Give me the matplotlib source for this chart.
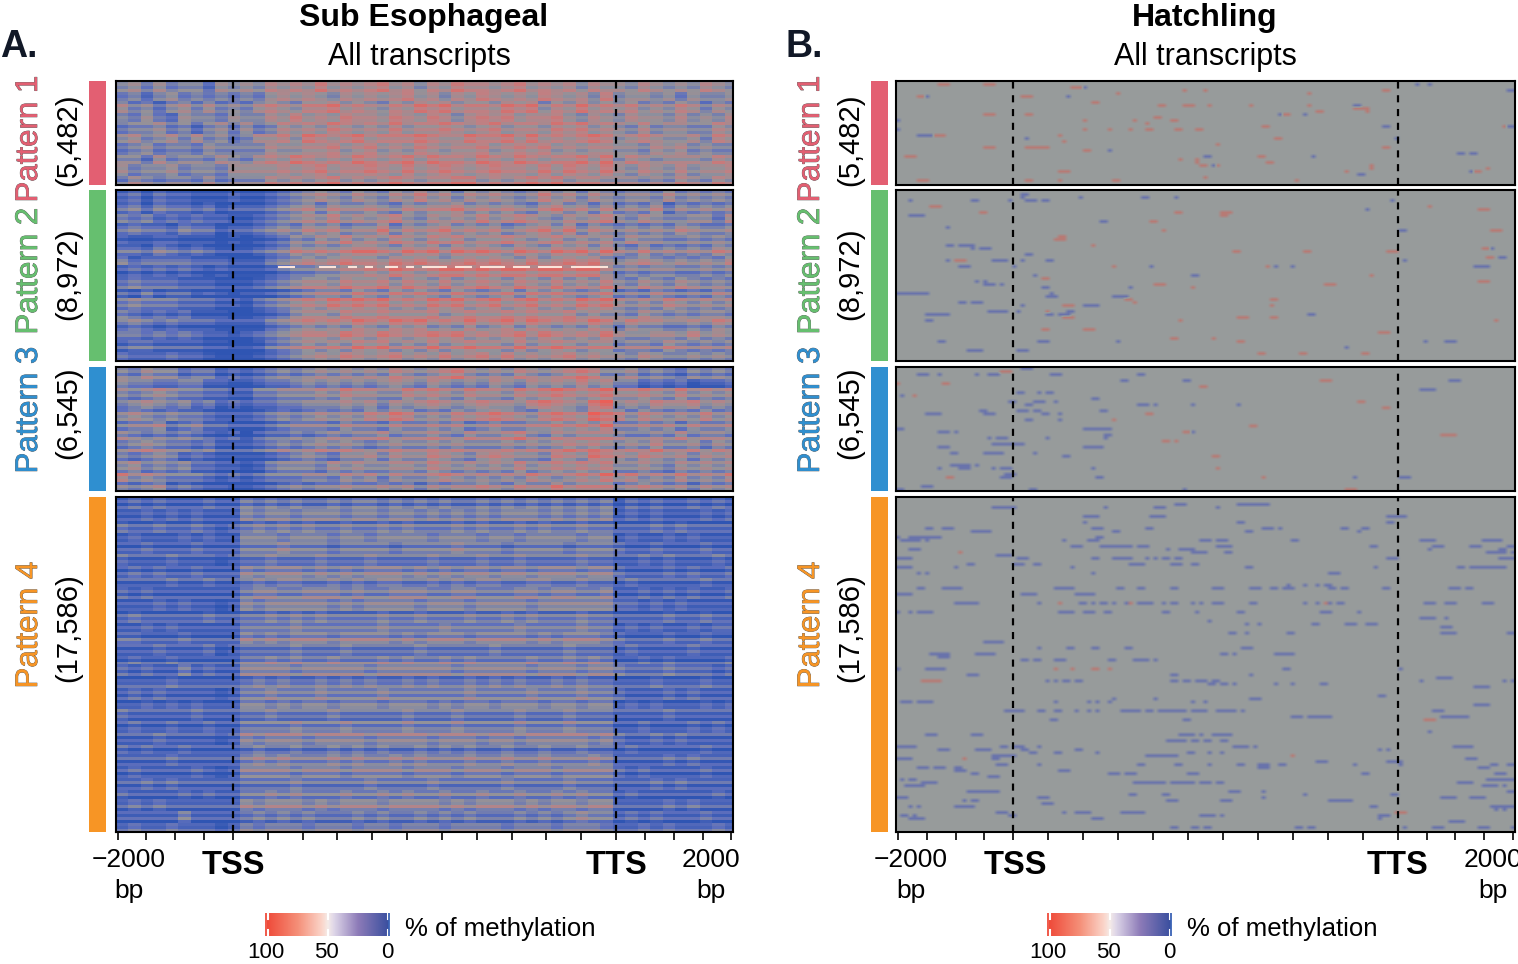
import numpy as np
import matplotlib
matplotlib.use("Agg")
import matplotlib.pyplot as plt
import matplotlib.patheffects as pe
from matplotlib.colors import LinearSegmentedColormap
from matplotlib.patches import Rectangle

plt.rcParams['font.family'] = ['Liberation Sans', 'DejaVu Sans']

W, H = 1518, 964

pattern_names = ["Pattern 1", "Pattern 2", "Pattern 3", "Pattern 4"]
pattern_counts = ["(5,482)", "(8,972)", "(6,545)", "(17,586)"]
pattern_colors = ["#e35f72", "#66bf6f", "#2f8fd0", "#f79525"]
name_y = [139, 271, 410, 625]
count_y = [140, 274, 413, 628]

# sub esophageal, digits are methylation deciles (0 = none, 9 = full)
sub_p1 = [
    "4535344254 5465657565 6756465766 5675656465 5465454654",
    "3424534343 4356565465 6567564657 6565765647 4554535445",
    "5342453534 3565466756 5465767566 5767465756 5645465354",
    "4353254435 4465756576 6576576467 6756675465 4655464546",
    "3445342453 5346565765 6575667656 7566576756 5464554465",
    "4534535342 3556476567 5666765576 6757565676 4565445365",
    "3453443544 4465566756 7565765667 5676756566 5546564544",
    "4425344354 3565765657 6567576657 6576566757 4654555465",
    "5344534435 5556567566 7657567656 7665757657 5465464556",
    "3543443534 4465656756 5676566775 6567675665 5545465465",
]
sub_p2 = [
    "2313221112 1123456546 5465756465 6545756465 4554645454",
    "3424332312 2234564655 6546566756 5654675646 4546354545",
    "4342323221 1234565756 5675465657 5676546567 5465445536",
    "3433243312 2345465645 5746567565 6456757465 4545465445",
    "2112211101 0123546575 6576576756 6765675656 4655445454",
    "3324323211 1234656567 7657675767 6576576757 5464545465",
    "4233332221 1134565676 6576765676 7657567675 4565454546",
    "2323232121 1123445566 7687678878 7887887886 4545544545",
    "3433322211 1234566576 6757657567 6576575657 5465465454",
    "3242331210 1123456657 6576765765 6757676567 4546545465",
    "3433322211 0234565767 6756576756 7567565767 5454654545",
    "4323231110 0123566576 6766675676 6767667565 5465454554",
    "3432322211 1134565657 6576756575 6757656576 4655445465",
    "3323232110 1234566576 5765676756 5675765657 5445546454",
    "2332222110 0134565657 6756575676 6575676566 4554654545",
    "3222322100 0123456576 5675657567 5756567565 5465445454",
]
sub_p3 = [
    "4354423312 1234345454 5465456754 5465456764 4534324343",
    "5443344221 1233454545 4565465454 6546565756 4423231223",
    "4345433221 1334445465 5446565465 5465676567 5565464545",
    "3454342312 1223344454 5354565456 5546765478 4546556454",
    "4543433211 1234345454 6576454656 7654676587 6465454645",
    "3445234221 1123444354 4354454534 5445565657 4454535445",
    "5434343212 0233434545 5645565465 5675465666 5445464554",
    "3454332311 1234345454 3454454544 4545456565 4546445354",
    "4345423211 1123454355 6465576546 7655476587 6576564656",
    "4534342211 0134443545 4455465454 5464565656 4454354545",
    "6454333212 1233344354 5354456545 4546545657 5645464546",
    "4345232110 0123434454 4545354556 5465575666 4565453545",
]
sub_p4 = [
    "1212111211 3232322323 3232323223 2323232323 0212112121",
    "1121212111 4344344434 4344343434 3444343434 1212111212",
    "2112112101 2323232232 2323222323 2232322322 1112121111",
    "1211121211 4443444344 3444434443 4434444344 1211212111",
    "1121112111 3334333233 3323333433 3233332333 2112111211",
    "2111211101 2232223222 3222232223 2232222322 1121211121",
    "1212112111 4344434343 4443434344 3443444344 2111212112",
    "1111211211 2323322323 2332232323 3223322322 1211111211",
    "2121111111 3443344434 3344433443 3344344334 1121212112",
    "1112121101 4344444343 4444344434 4443444444 2212121111",
    "1211111211 2232323222 2322322232 2323222322 1111211211",
    "1121211111 3333433333 3433334333 3343333433 1212112122",
    "2211121111 4343444344 4434344434 4443434443 2111211211",
    "1112111201 2222322232 2222322222 3222223222 1211112111",
    "1211211111 3343433433 3434334343 3334334343 1121211112",
    "2121131211 4444344444 3444444344 4443444344 3222322212",
    "1111211111 2323223232 3223232232 3232232322 1112111211",
    "1212111101 3343334333 3433333343 3334333433 2111212111",
    "1121212111 4434344344 4344434344 3444344344 1212111212",
    "2111112111 2232222322 2223222322 2232223222 1111211111",
    "1211211211 3333433343 3334333433 3343334333 1121112121",
    "1112111101 4344434444 3444434443 4434444434 2112121111",
    "2121121111 2322322323 2322323232 2322322322 1211111211",
    "1111211111 3434333434 3343433343 3433433343 1111212111",
    "1211112101 4444344434 4443444344 4344434444 2121111211",
    "1121211111 2222322222 3222232222 2322223222 1112121111",
    "2111121211 3343433343 3434334334 3343343433 1211111121",
    "1212111111 4344434344 4344443434 4434344344 1111212111",
    "1111131111 2323232223 2322323232 2232323433 1212111211",
    "1211211101 3233323332 3323332333 3233323332 1121211121",
]
sub_level_shift = [-3, -7, -4, 2]
# fine row by row streaks of each block, digit 4 is neutral, one digit per 3 px row
sub_rows_p1 = "45364352746354625374635246375463527"
sub_rows_p2 = "263514725361473526148325736142537061847352685146735282463"
sub_rows_p3 = "46275318462753174628351746293517462835174"
sub_rows_p4 = ("2617352618472536174825361748253617263518472635184726351"
               "8362715483627154836271548263715482637154826371548263715482")
sub_row_step = 5
# row of the second block where almost nothing is covered, from/to column of the pale runs
p2_pale_row = 25.5
p2_pale_runs = [(39, 43), (49, 53), (56, 58), (60, 62), (65, 68), (70, 72), (74, 80), (82, 86), (88, 94),
                (96, 100), (102, 108), (110, 119)]

# hatchling, sparse methylated / unmethylated streaks as (row, first col, last col)
hatch_p1_red = [
    (1, 10, 12), (1, 21, 23), (2, 42, 44), (5, 5, 6), (5, 30, 32), (4, 53, 53), (3, 69, 69), (3, 74, 74),
    (3, 117, 118), (4, 99, 99), (7, 47, 48), (8, 63, 64), (8, 69, 71), (8, 75, 75), (8, 85, 85), (8, 99, 99),
    (9, 110, 113), (11, 21, 23), (11, 31, 32), (10, 101, 102), (11, 93, 94), (10, 113, 113), (12, 62, 63),
    (13, 45, 45), (13, 66, 67), (13, 57, 57), (14, 60, 60), (15, 88, 89), (15, 146, 146), (16, 45, 45),
    (16, 51, 51), (16, 56, 56), (16, 60, 61), (16, 67, 68), (16, 72, 73), (18, 9, 11), (18, 39, 39),
    (20, 40, 40), (19, 91, 92), (22, 21, 23), (22, 31, 33), (22, 34, 36), (22, 117, 118), (21, 77, 77),
    (23, 45, 46), (25, 2, 4), (25, 87, 88), (26, 68, 68), (26, 72, 72), (27, 72, 72), (28, 73, 74),
    (28, 77, 77), (28, 114, 114), (27, 89, 90), (30, 39, 41), (30, 108, 108), (29, 114, 114), (32, 74, 74),
    (33, 5, 7), (33, 39, 39), (33, 52, 53), (33, 31, 32), (33, 96, 96), (30, 139, 140), (29, 142, 142),
]
hatch_p1_blue = [
    (2, 45, 45), (5, 7, 7), (5, 41, 41), (1, 125, 125), (1, 128, 128), (3, 147, 148), (13, 0, 0), (16, 0, 0),
    (18, 5, 8), (18, 10, 10), (15, 117, 118), (15, 147, 148), (19, 31, 31), (19, 120, 120), (23, 51, 51),
    (24, 135, 136), (24, 138, 139), (25, 100, 100), (25, 74, 75), (28, 76, 76), (8, 110, 111), (11, 92, 92),
    (11, 98, 98), (30, 138, 138), (31, 111, 112),
]
hatch_p2_red = [
    (5, 8, 10), (7, 20, 21), (7, 67, 68), (7, 78, 80), (8, 78, 79), (10, 61, 62), (13, 64, 64), (15, 39, 40),
    (16, 38, 40), (18, 47, 47), (20, 81, 82), (20, 98, 99), (20, 118, 120), (19, 141, 142), (23, 14, 16),
    (25, 52, 52), (25, 89, 89), (28, 114, 114), (29, 35, 36), (31, 62, 64), (30, 140, 142), (31, 103, 105),
    (32, 71, 71), (36, 90, 91), (36, 55, 56), (37, 57, 57), (38, 40, 42), (38, 90, 90), (40, 36, 36),
    (42, 40, 42), (42, 82, 84), (42, 90, 91), (43, 68, 68), (43, 144, 144), (46, 35, 36), (46, 45, 47),
    (47, 116, 118), (49, 66, 67), (49, 76, 76), (50, 82, 83), (13, 143, 145), (5, 128, 128), (6, 140, 142),
    (54, 87, 88), (54, 97, 98), (54, 112, 113), (22, 142, 143),
]
hatch_p2_blue = [
    (1, 30, 31), (2, 30, 30), (3, 3, 3), (3, 18, 19), (3, 27, 27), (3, 31, 32), (3, 33, 33), (3, 35, 36),
    (2, 59, 60), (2, 67, 67), (2, 44, 44), (8, 3, 6), (10, 49, 50), (12, 12, 12), (18, 12, 12), (18, 13, 13),
    (18, 15, 18), (19, 18, 18), (19, 20, 22), (21, 31, 32), (23, 12, 12), (23, 23, 26), (23, 30, 30),
    (23, 36, 37), (23, 122, 122), (25, 15, 17), (25, 28, 28), (25, 139, 142), (30, 19, 19), (30, 21, 21),
    (31, 21, 23), (31, 25, 25), (32, 35, 36), (32, 56, 56), (34, 0, 7), (34, 37, 37), (35, 36, 38),
    (35, 52, 55), (37, 15, 16), (37, 18, 19), (37, 20, 20), (38, 30, 30), (38, 45, 47), (38, 48, 48),
    (40, 41, 42), (40, 22, 23), (40, 24, 25), (40, 26, 26), (40, 29, 29), (41, 39, 41), (41, 36, 37),
    (41, 7, 12), (43, 7, 8), (50, 10, 11), (50, 34, 36), (50, 53, 53), (50, 127, 127), (50, 132, 134),
    (53, 17, 20), (53, 29, 31), (41, 99, 100), (28, 33, 33), (25, 91, 91), (25, 95, 95), (25, 61, 61),
    (28, 71, 72), (52, 108, 108), (13, 121, 122), (19, 143, 143), (22, 145, 146), (6, 113, 113), (3, 119, 119),
]
hatch_p3_red = [
    (1, 25, 27), (5, 0, 0), (5, 11, 12), (4, 102, 104), (6, 73, 74), (9, 4, 4), (11, 111, 112), (13, 117, 118),
    (15, 60, 61), (17, 52, 52), (19, 85, 86), (21, 69, 70), (22, 131, 134), (24, 64, 65), (24, 67, 67),
    (29, 76, 77), (33, 77, 77), (36, 12, 13), (36, 88, 88), (40, 108, 110),
]
hatch_p3_blue = [
    (0, 30, 32), (2, 5, 7), (2, 10, 10), (2, 19, 19), (2, 22, 24), (2, 37, 39), (2, 58, 59), (4, 54, 55),
    (4, 69, 70), (4, 133, 135), (7, 126, 127), (7, 128, 129), (8, 29, 30), (8, 34, 34), (8, 36, 37), (9, 1, 1),
    (10, 47, 48), (11, 27, 28), (11, 33, 35), (11, 38, 38), (12, 31, 32), (12, 58, 59), (12, 60, 60),
    (12, 62, 62), (12, 71, 71), (12, 82, 82), (14, 20, 21), (14, 29, 30), (14, 31, 31), (14, 33, 33),
    (14, 34, 34), (14, 49, 50), (15, 21, 23), (15, 35, 36), (15, 39, 39), (15, 7, 7), (15, 8, 9), (15, 10, 10),
    (17, 31, 32), (17, 39, 39), (20, 0, 1), (20, 45, 51), (21, 10, 12), (21, 14, 14), (21, 70, 71), (22, 50, 51),
    (23, 50, 50), (23, 22, 22), (23, 24, 26), (23, 36, 36), (25, 23, 30), (26, 10, 12), (26, 45, 49),
    (28, 13, 14), (28, 21, 24), (28, 25, 25), (28, 33, 33), (29, 40, 41), (32, 13, 17), (32, 19, 19),
    (33, 10, 10), (33, 15, 17), (33, 23, 23), (33, 25, 26), (33, 27, 27), (33, 47, 47), (35, 26, 28),
    (36, 25, 27), (36, 48, 49), (36, 110, 110), (36, 121, 123), (39, 6, 8), (40, 0, 1), (40, 32, 33), (40, 69, 69),
]
hatch_p4_red = [
    (18, 15, 15), (35, 39, 39), (35, 56, 56), (35, 103, 103), (57, 38, 38), (57, 42, 42), (57, 47, 48),
    (57, 51, 51), (61, 6, 10), (74, 127, 129), (86, 95, 95), (87, 16, 16), (105, 120, 122),
]
hatch_p4_blue = [
    (3, 23, 28), (2, 67, 68), (2, 69, 69), (2, 82, 89), (3, 50, 50), (3, 62, 64), (3, 77, 77), (6, 45, 48),
    (6, 61, 64), (6, 118, 122), (8, 45, 45), (8, 82, 83), (8, 118, 119), (10, 7, 8), (10, 11, 12), (10, 13, 13),
    (10, 47, 49), (10, 60, 61), (10, 88, 90), (10, 92, 92), (10, 107, 108), (10, 112, 113), (11, 18, 20),
    (11, 21, 22), (11, 52, 53), (11, 84, 85), (11, 111, 111), (11, 149, 149), (13, 0, 0), (13, 3, 5), (13, 6, 8),
    (13, 9, 10), (13, 48, 49), (14, 1, 2), (14, 3, 5), (14, 7, 7), (14, 40, 40), (14, 46, 47), (14, 48, 48),
    (14, 73, 75), (14, 77, 79), (14, 95, 96), (14, 126, 129), (14, 141, 145), (16, 42, 44), (16, 49, 50),
    (16, 51, 56), (16, 58, 60), (16, 77, 80), (16, 114, 115), (16, 129, 131), (16, 138, 140), (16, 147, 149),
    (17, 3, 5), (17, 65, 65), (17, 68, 68), (17, 69, 71), (17, 145, 146), (17, 128, 128), (18, 71, 74),
    (18, 79, 80), (18, 142, 144), (18, 145, 146), (18, 148, 149), (19, 24, 27), (20, 0, 3), (20, 29, 31),
    (20, 47, 48), (20, 52, 56), (20, 60, 60), (20, 62, 62), (20, 64, 65), (20, 67, 68), (20, 118, 120),
    (20, 145, 148), (22, 28, 29), (22, 30, 30), (22, 33, 34), (22, 56, 59), (22, 66, 68), (22, 71, 72),
    (22, 17, 18), (23, 0, 3), (23, 14, 14), (23, 42, 42), (23, 84, 85), (23, 115, 115), (23, 135, 136),
    (23, 138, 140), (23, 141, 144), (23, 145, 146), (25, 47, 47), (25, 104, 106), (25, 5, 5), (25, 7, 7),
    (30, 5, 6), (30, 11, 12), (30, 13, 14), (30, 15, 15), (30, 38, 40), (30, 41, 42), (30, 53, 54), (30, 58, 59),
    (30, 66, 67), (30, 76, 77), (30, 78, 78), (30, 85, 87), (30, 90, 91), (30, 93, 95), (30, 104, 105),
    (30, 107, 108), (30, 117, 118), (30, 133, 135), (30, 137, 138), (32, 0, 3), (32, 30, 33), (32, 43, 45),
    (32, 45, 47), (29, 94, 94), (29, 98, 98), (29, 101, 101), (29, 103, 104),
    (35, 14, 19), (35, 34, 34), (35, 44, 45), (35, 47, 47), (35, 49, 50), (35, 52, 52), (35, 55, 56), (35, 58, 61),
    (35, 64, 64), (35, 66, 67), (35, 71, 71), (35, 73, 73), (35, 76, 78), (35, 85, 86), (35, 98, 98),
    (35, 101, 101), (35, 103, 104), (35, 106, 107), (35, 127, 129), (35, 132, 134), (35, 141, 143), (38, 0, 0),
    (38, 3, 3), (38, 5, 8), (38, 39, 42), (38, 45, 45), (38, 46, 47), (38, 50, 51), (38, 64, 65), (38, 72, 72),
    (38, 82, 83), (38, 102, 104), (38, 111, 111), (40, 126, 129), (40, 132, 132), (41, 75, 75), (42, 84, 84),
    (42, 87, 87), (42, 100, 101), (42, 108, 110), (42, 113, 115), (43, 131, 133), (45, 80, 81), (45, 84, 84),
    (45, 94, 95), (45, 131, 134), (45, 147, 149), (48, 21, 24), (48, 25, 25), (50, 34, 34), (50, 41, 42),
    (50, 47, 48), (50, 55, 56), (50, 83, 85), (52, 8, 10), (52, 11, 12), (52, 19, 21), (52, 22, 23), (52, 78, 79),
    (52, 81, 81), (52, 91, 95), (53, 10, 12), (54, 30, 31), (54, 33, 34), (54, 38, 40), (54, 51, 52), (54, 57, 60),
    (54, 62, 62), (57, 0, 0), (57, 7, 11), (57, 93, 94), (57, 121, 121), (59, 17, 19), (59, 66, 67), (59, 85, 85),
    (60, 130, 133), (61, 36, 36), (61, 38, 38), (61, 40, 41), (61, 43, 44), (61, 66, 67), (61, 69, 70),
    (61, 72, 74), (61, 76, 77), (61, 126, 126), (61, 146, 146), (61, 148, 149), (62, 75, 76), (62, 78, 79),
    (62, 81, 81), (62, 91, 91), (62, 95, 95), (62, 102, 103), (63, 139, 142), (66, 116, 117), (67, 85, 86),
    (67, 87, 87), (67, 52, 52), (67, 62, 62), (68, 1, 3), (68, 5, 7), (68, 8, 8), (68, 46, 46), (68, 48, 48),
    (68, 51, 51), (68, 38, 38), (68, 71, 71), (68, 74, 74), (69, 139, 142), (71, 26, 28), (71, 28, 29), (71, 30, 30),
    (71, 34, 35), (71, 38, 39), (71, 43, 43), (71, 46, 46), (71, 48, 48), (71, 54, 55), (71, 56, 58), (71, 60, 61),
    (71, 63, 65), (71, 66, 69), (71, 71, 74), (71, 77, 78), (71, 79, 81), (71, 83, 83), (71, 129, 131), (73, 95, 97),
    (73, 99, 104), (73, 131, 137), (74, 37, 38), (74, 69, 70), (78, 128, 128), (79, 7, 9), (79, 18, 20),
    (79, 68, 71), (79, 73, 73), (79, 76, 80), (81, 65, 69), (81, 71, 72), (81, 74, 75), (81, 78, 79), (83, 0, 4),
    (83, 25, 26), (83, 28, 30), (83, 34, 34), (83, 81, 84), (83, 86, 86), (83, 134, 138), (84, 10, 12), (84, 19, 19),
    (84, 20, 22), (84, 30, 31), (84, 43, 44), (84, 116, 116), (84, 118, 118), (85, 32, 33), (85, 38, 39), (85, 48, 48),
    (85, 70, 71), (85, 75, 75), (85, 78, 78), (86, 23, 25), (86, 26, 28), (86, 60, 65), (86, 65, 67), (87, 0, 3),
    (87, 23, 24), (87, 137, 139), (88, 101, 103), (88, 118, 121), (89, 24, 26), (89, 34, 34), (89, 58, 59),
    (89, 67, 68), (89, 75, 75), (89, 82, 83), (89, 87, 89), (89, 92, 93), (89, 110, 110), (89, 121, 121),
    (89, 143, 144), (89, 147, 149), (90, 5, 7), (90, 9, 11), (90, 14, 15), (90, 87, 89), (90, 140, 142), (91, 14, 16),
    (91, 39, 41), (92, 18, 19), (92, 51, 53), (92, 55, 56), (92, 57, 57), (92, 70, 71), (92, 72, 72), (92, 112, 113),
    (92, 144, 146), (93, 22, 24), (94, 1, 1), (94, 3, 4), (94, 142, 148), (95, 6, 9), (95, 57, 58), (95, 59, 63),
    (95, 64, 64), (95, 66, 70), (95, 71, 71), (95, 73, 75), (95, 77, 78), (95, 135, 138), (96, 2, 6), (96, 141, 143),
    (96, 144, 144), (96, 146, 146), (98, 17, 19), (98, 20, 22), (98, 23, 24), (98, 80, 82), (98, 88, 88),
    (98, 147, 149), (99, 56, 57), (99, 64, 65), (99, 98, 98), (99, 119, 120), (100, 0, 2), (100, 34, 36), (100, 88, 88),
    (100, 131, 134), (100, 138, 141), (101, 16, 16), (101, 18, 19), (101, 65, 67), (101, 78, 80), (101, 104, 109),
    (102, 35, 37), (103, 14, 18), (103, 114, 115), (103, 3, 3), (103, 5, 5), (103, 143, 148), (104, 144, 144),
    (104, 146, 146), (105, 24, 26), (105, 40, 40), (105, 43, 46), (105, 54, 59), (106, 1, 2), (106, 4, 4),
    (106, 27, 28), (106, 73, 76), (106, 78, 78), (106, 116, 118), (107, 3, 6), (107, 47, 49), (107, 116, 116),
    (108, 133, 136), (110, 66, 67), (110, 71, 72), (110, 74, 75), (110, 96, 97), (110, 99, 100), (110, 122, 122),
    (110, 129, 131), (110, 140, 142), (110, 148, 149),
]

N_COL = 149
TSS_COL, TTS_COL = 28, 121
N_ROWS = [35, 57, 41, 112]
BLUE_LEVEL, RED_LEVEL = 28, 68

PANEL_Y = [(81, 185), (190, 361), (367, 491), (497, 832)]
cmap_sub = LinearSegmentedColormap.from_list(
    "sub", ["#2f55b3", "#5f70bd", "#93939a", "#c27f82", "#ea5f58"])
cmap_hatch = LinearSegmentedColormap.from_list("hatch", ["#3040c0", "#979c9c", "#f04030"])
cmap_legend = LinearSegmentedColormap.from_list(
    "legend", [(0, "#ef4b3a"), (0.25, "#f58f78"), (0.45, "#fbd5ca"), (0.5, "#f5ebe8"),
               (0.55, "#ded6e8"), (0.75, "#8d7bb8"), (1, "#3a4f9f")])


def px_axes(x0, y0, x1, y1):
    return fig.add_axes([x0 / W, 1 - y1 / H, (x1 - x0) / W, (y1 - y0) / H])


def put(x, y, s, **kw):
    kw.setdefault('ha', 'center')
    kw.setdefault('va', 'center')
    return fig.text(x / W, 1 - y / H, s, **kw)


def sub_matrix(rows, streaks, n_rows, shift):
    coarse = np.array([[int(c) * 100 / 9 for c in r.replace(" ", "")] for r in rows])
    ri = (np.arange(n_rows) * coarse.shape[0] / n_rows).astype(int)
    ci = (np.arange(N_COL) * coarse.shape[1] / N_COL).astype(int)
    m = coarse[ri][:, ci] + shift
    fine = np.array([int(c) - 4 for c in streaks.ljust(n_rows, '4')[:n_rows]]) * sub_row_step
    return np.clip(m + fine[:, None], 0, 100)


def hatch_matrix(n_rows, red, blue):
    m = np.full((n_rows, N_COL), 50.0)
    for r, a, b in blue:
        m[r, a:b + 1] = BLUE_LEVEL
    for r, a, b in red:
        m[r, a:b + 1] = RED_LEVEL
    return m


def draw_column(x0, x1, bar_x, text_x, count_x, matrices, cmap, interp, title, letter, letter_x,
                title_x, sub_x, leg_x, label_dx):
    for i, (m, (y0, y1)) in enumerate(zip(matrices, PANEL_Y)):
        ax = px_axes(x0, y0, x1, y1)
        ax.imshow(m, cmap=cmap, vmin=0, vmax=100, aspect='auto', interpolation=interp,
                  extent=(-0.4, N_COL + 0.4, m.shape[0], 0))
        if cmap is cmap_sub and i == 1:
            # the pale row in the second block
            for a, b in p2_pale_runs:
                ax.plot([a, b], [p2_pale_row, p2_pale_row], color="#fbe4da", lw=1.5, solid_capstyle='butt')
            ax.set_ylim(m.shape[0], 0)
        ax.axvline(TSS_COL, color='black', lw=1.6, dashes=(3.2, 3.0))
        ax.axvline(TTS_COL, color='black', lw=1.6, dashes=(3.2, 3.0))
        for s in ax.spines.values():
            s.set_linewidth(1.5)
        ax.set_yticks([])
        ax.set_xlim(-0.4, N_COL + 0.4)
        if i == 3:
            up = np.linspace(0, TSS_COL, 5)
            body = np.linspace(TSS_COL, TTS_COL, 12)
            down = np.linspace(TTS_COL, N_COL, 5)
            ax.set_xticks(np.unique(np.concatenate([up, body, down])))
            ax.set_xticklabels([])
            ax.tick_params(axis='x', length=5.5, width=1.2)
        else:
            ax.set_xticks([])
        fig.add_artist(Rectangle((bar_x / W, 1 - y1 / H), 17 / W, (y1 - y0) / H,
                                 transform=fig.transFigure, color=pattern_colors[i], lw=0))
        t = put(text_x, name_y[i], pattern_names[i], rotation=90, color=pattern_colors[i], fontsize=22.5)
        t.set_path_effects([pe.withStroke(linewidth=0.5, foreground='#555555')])
        put(count_x, count_y[i], pattern_counts[i], rotation=90, color='black', fontsize=21)

    put(title_x, 18, title, fontweight='bold', fontsize=23)
    put(sub_x, 57, "All transcripts", fontsize=22)
    put(letter_x, 47, letter, ha='left', fontweight='bold', fontsize=27, color='#111827')

    put(x0 + 13 + label_dx, 860, "\u22122000", fontsize=19)
    put(x0 + 13 + label_dx, 891, "bp", fontsize=19)
    put(x0 + 117.5 + label_dx, 865, "TSS", fontweight='bold', fontsize=23.5)
    put(x0 + 500.5 + label_dx * 0.5, 865, "TTS", fontweight='bold', fontsize=23.5)
    put(x0 + 595 + label_dx, 860, "2000", fontsize=19)
    put(x0 + 595 + label_dx, 891, "bp", fontsize=19)

    # colour key
    lax = px_axes(leg_x, 913, leg_x + 125, 936)
    lax.imshow(np.linspace(0, 100, 200).reshape(1, -1), cmap=cmap_legend, aspect='auto',
               extent=(100, 0, 0, 1), vmin=0, vmax=100)
    lax.set_xlim(101.5, -1)
    lax.set_xticks([])
    lax.set_yticks([])
    for s in lax.spines.values():
        s.set_visible(False)
    for v in (99, 50, 1):
        lax.plot([v, v], [0, 0.28], color='white', lw=1.5)
        lax.plot([v, v], [0.72, 1], color='white', lw=1.5)
    lax.set_ylim(0, 1)
    lax.axvline(101, color='#ef4b3a', lw=1.3)
    lax.axvline(-0.4, color='#3a62b5', lw=1.3)
    put(leg_x + 0.5, 953, "100", fontsize=16)
    put(leg_x + 61, 953, "50", fontsize=16)
    put(leg_x + 122, 953, "0", fontsize=16)
    put(leg_x + 140, 929, "% of methylation", ha='left', fontsize=18.5)


fig = plt.figure(figsize=(W / 100, H / 100), dpi=100)

sub_matrices = [
    sub_matrix(sub_p1, sub_rows_p1, N_ROWS[0], sub_level_shift[0]),
    sub_matrix(sub_p2, sub_rows_p2, N_ROWS[1], sub_level_shift[1]),
    sub_matrix(sub_p3, sub_rows_p3, N_ROWS[2], sub_level_shift[2]),
    sub_matrix(sub_p4, sub_rows_p4, N_ROWS[3], sub_level_shift[3]),
]
hatch_matrices = [
    hatch_matrix(N_ROWS[0], hatch_p1_red, hatch_p1_blue),
    hatch_matrix(N_ROWS[1], hatch_p2_red, hatch_p2_blue),
    hatch_matrix(N_ROWS[2], hatch_p3_red, hatch_p3_blue),
    hatch_matrix(N_ROWS[3], hatch_p4_red, hatch_p4_blue),
]

draw_column(116, 733, 89, 29, 68, sub_matrices, cmap_sub, 'nearest', "Sub Esophageal", "A.", 0, 424, 419, 265, 0)
draw_column(896, 1515, 871, 811, 850, hatch_matrices, cmap_hatch, 'bilinear', "Hatchling", "B.", 785, 1205, 1205, 1047, 2)

fig.savefig("out.png", dpi=100)
